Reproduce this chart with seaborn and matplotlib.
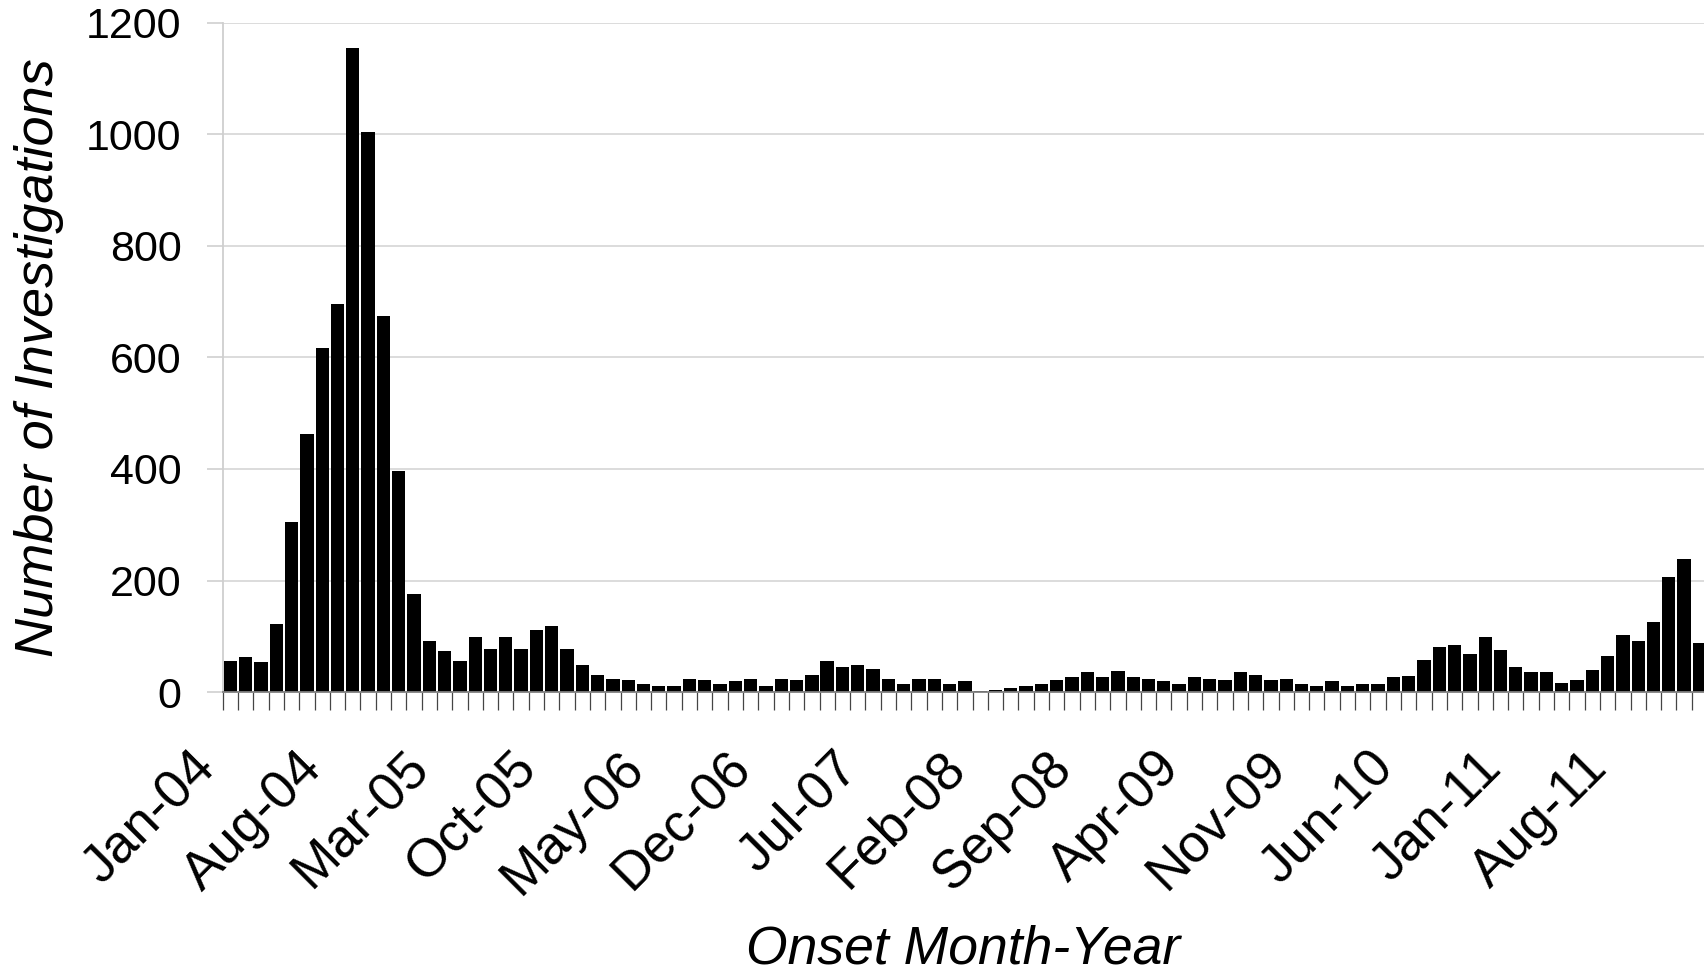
import matplotlib
matplotlib.use("Agg")
import matplotlib.pyplot as plt
from matplotlib.transforms import ScaledTranslation
import seaborn as sns
import numpy as np
import pandas as pd

# ---- data ----
months = list(pd.date_range("2004-01-01", "2012-01-01", freq="MS").strftime("%b-%y"))
counts = [56, 63, 53, 122, 305, 463, 617, 696, 1156, 1005, 674, 396,
          176, 92, 74, 56, 99, 78, 99, 78, 112, 119, 78, 49,
          31, 24, 22, 15, 11, 11, 24, 22, 15, 19, 24, 11,
          24, 22, 31, 56, 45, 49, 42, 24, 15, 24, 24, 15,
          19, 1, 4, 8, 11, 15, 22, 27, 36, 27, 38, 27,
          24, 19, 15, 27, 24, 22, 36, 31, 22, 24, 15, 11,
          19, 11, 15, 15, 27, 29, 58, 80, 84, 69, 98, 76,
          44, 35, 35, 17, 22, 40, 65, 102, 91, 125, 206, 238,
          87]
tick_labels = ["Jan-04", "Aug-04", "Mar-05", "Oct-05", "May-06", "Dec-06", "Jul-07",
               "Feb-08", "Sep-08", "Apr-09", "Nov-09", "Jun-10", "Jan-11", "Aug-11"]
y_ticks = [0, 200, 400, 600, 800, 1000, 1200]

sns.set_style("white")
plt.rcParams["font.family"] = ["Liberation Sans", "DejaVu Sans"]

W, H = 1704, 974
fig = plt.figure(figsize=(W / 100, H / 100), dpi=100)
left_px, right_px, top_px, bot_px = 222.7, 1704, 23, 692
ax = fig.add_axes([left_px / W, 1 - bot_px / H, (right_px - left_px) / W, (bot_px - top_px) / H])

df = pd.DataFrame({"month": months, "count": counts})
sns.barplot(data=df, x="month", y="count", order=months, color="black",
            saturation=1, width=0.87, edgecolor="none", linewidth=0, ax=ax)

ax.set_yticks(y_ticks)
ax.set_yticklabels([str(v) for v in y_ticks])

pos = [months.index(lbl) for lbl in tick_labels]
ax.set_xticks(pos)
ax.set_xticklabels(tick_labels)
ax.set_xticks(np.arange(-0.5, len(months), 1.0), minor=True)

# limits last, so tick setting cannot widen them
ax.set_xlim(-0.5, 96.3)
ax.set_ylim(0, 1200)

ax.yaxis.grid(True, color="#d9d9d9", linewidth=1.3)
ax.xaxis.grid(False)
ax.set_axisbelow(True)

for s in ["top", "right"]:
    ax.spines[s].set_visible(False)
ax.spines["left"].set_color("#cfcfcf")
ax.spines["left"].set_linewidth(1.3)
ax.spines["bottom"].set_color("#808080")
ax.spines["bottom"].set_linewidth(1.3)

ax.tick_params(axis="x", which="both", bottom=True)
ax.tick_params(axis="x", which="major", length=0, pad=49, labelsize=38.5, labelcolor="black")
ax.tick_params(axis="x", which="minor", length=13, width=0.9, color="#454545", direction="out")
ax.tick_params(axis="y", which="major", left=True, length=11.5, width=1.2, color="#cfcfcf",
               direction="out", pad=18, labelsize=31, labelcolor="black")

# rotated labels: right end sits a little left of the category centre
offset = ScaledTranslation(-0.23, 0, fig.dpi_scale_trans)
for lbl in ax.get_xticklabels():
    lbl.set_rotation(45)
    lbl.set_ha("right")
    lbl.set_va("center")
    lbl.set_rotation_mode("anchor")
    lbl.set_transform(lbl.get_transform() + offset)

ax.set_xlabel("Onset Month-Year", fontsize=38.5, fontstyle="italic", va="center", color="black")
ax.xaxis.set_label_coords(0.5, -(950 - bot_px) / (bot_px - top_px))
ax.set_ylabel("Number of Investigations", fontsize=39, fontstyle="italic", va="center",
              ha="center", color="black")
ax.yaxis.set_label_coords((39 - left_px) / (right_px - left_px), 0.5)

fig.savefig("out.png", dpi=100)
